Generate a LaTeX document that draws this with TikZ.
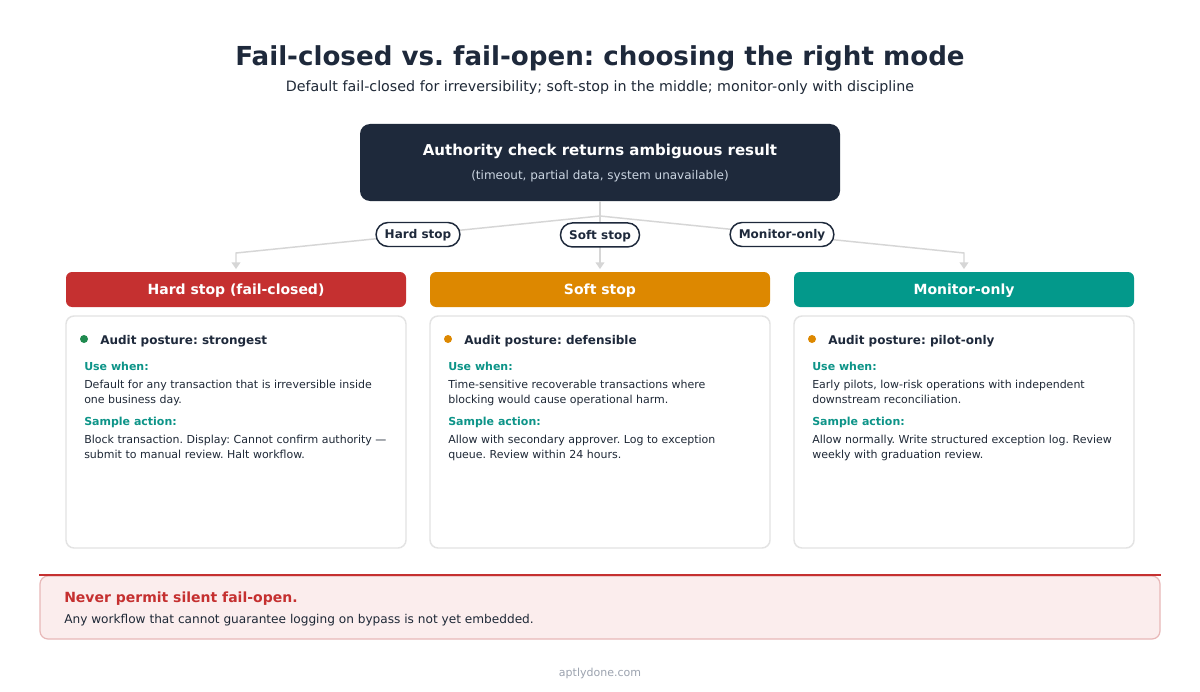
\documentclass[tikz,border=0pt]{standalone}
\usepackage{fontspec}
\setmainfont{DejaVu Sans}
\usetikzlibrary{arrows.meta}
\frenchspacing
\definecolor{navy}{HTML}{1E293B}
\definecolor{ink}{HTML}{1F2937}
\definecolor{hardred}{HTML}{C53030}
\definecolor{softorange}{HTML}{DD8800}
\definecolor{monteal}{HTML}{03998B}
\definecolor{cueteal}{HTML}{0D9488}
\definecolor{okgreen}{HTML}{1F8A4F}
\definecolor{linkgray}{HTML}{D6D6D6}
\definecolor{cardline}{HTML}{E3E3E3}
\definecolor{alertfill}{HTML}{FBEDED}
\definecolor{alertline}{HTML}{E8B8B8}
\definecolor{footgray}{HTML}{9CA3AF}
\definecolor{subgray}{HTML}{CBD5E1}

\begin{document}
\begin{tikzpicture}[x=0.75pt,y=-0.75pt,
    link/.style={draw=linkgray,line width=1.1pt},
    tip/.style={-{Triangle[length=5pt,width=6.5pt]},shorten >=2pt},
    pill/.style={draw=navy,fill=white,line width=1.1pt,rounded corners=9pt,minimum height=18pt,
      text height=6.6pt,text depth=0pt,inner xsep=6.5pt,inner ysep=0pt,text=navy,
      font=\fontsize{9}{11}\selectfont\bfseries},
    head/.style={rounded corners=4.5pt,minimum width=255pt,minimum height=26.25pt,
      text height=7.6pt,text depth=0pt,text=white,font=\fontsize{10.5}{12}\selectfont\bfseries},
    card/.style={draw=cardline,fill=white,line width=1.1pt,rounded corners=6pt,
      minimum width=255pt,minimum height=174pt},
    body/.style={anchor=base west,inner sep=0pt,text=ink,font=\fontsize{8.25}{10}\selectfont},
    cue/.style={anchor=base west,inner sep=0pt,text=cueteal,font=\fontsize{8.25}{10}\selectfont\bfseries}]
  \useasboundingbox[fill=white] (0,0) rectangle (1200,692);

  \node[anchor=base,text=navy,font=\fontsize{19.6}{22}\selectfont\bfseries] (title) at (600,66)
    {Fail-closed vs. fail-open: choosing the right mode};
  \node[anchor=base,text=ink,font=\fontsize{10.7}{13}\selectfont] (subtitle) at (600,92)
    {Default fail-closed for irreversibility; soft-stop in the middle; monitor-only with discipline};

  % ambiguous result
  \node[fill=navy,rounded corners=7.5pt,minimum width=360pt,minimum height=57.75pt] (auth) at (600,162.5) {};
  \node[anchor=base,text=white,font=\fontsize{11.25}{13}\selectfont\bfseries] (authtitle) at (600,156)
    {Authority check returns ambiguous result};
  \node[anchor=base,text=subgray,font=\fontsize{9}{11}\selectfont] (authsub) at (600,179)
    {(timeout, partial data, system unavailable)};

  % the three modes
  \foreach \x/\n/\hd/\hc/\dc/\aud/\ua/\ub/\sa/\sb in {
      66/hard/{Hard stop (fail-closed)}/hardred/okgreen/strongest/{Default for any transaction that is irreversible inside}/{one business day.}/{Block transaction. Display: Cannot confirm authority —}/{submit to manual review. Halt workflow.},
      430/soft/{Soft stop}/softorange/softorange/defensible/{Time-sensitive recoverable transactions where}/{blocking would cause operational harm.}/{Allow with secondary approver. Log to exception}/{queue. Review within 24 hours.},
      794/mon/{Monitor-only}/monteal/softorange/pilot-only/{Early pilots, low-risk operations with independent}/{downstream reconciliation.}/{Allow normally. Write structured exception log. Review}/{weekly with graduation review.}}{
    \node[head,fill=\hc] (\n) at (\x+170,289.5) {\hd};
    \node[card] (card\n) at (\x+170,432) {};
    \fill[\dc] (\x+18,339) circle (3pt);
    \node[anchor=base west,inner sep=0pt,text=navy,font=\fontsize{9}{11}\selectfont\bfseries] at (\x+34,344)
      {Audit posture: \aud};
    \node[cue] at (\x+18,370) {Use when:};
    \node[body] at (\x+18,388) {\ua};
    \node[body] at (\x+18,403) {\ub};
    \node[cue] at (\x+18,425) {Sample action:};
    \node[body] at (\x+18,443) {\sa};
    \node[body] at (\x+18,458) {\sb};
  }

  % connectors
  \coordinate (fork) at (600,216);
  \coordinate (hardbend) at (236,253);
  \coordinate (monbend) at (964,253);
  \draw[link] (auth.south) -- (fork);
  \draw[link,tip] (fork) -- node[pill]{Hard stop} (hardbend) -- (hard.north);
  \draw[link,tip] (fork) -- node[pill,pos=0.34]{Soft stop} (soft.north);
  \draw[link,tip] (fork) -- node[pill]{Monitor-only} (monbend) -- (mon.north);

  % warning
  \node[draw=alertline,fill=alertfill,line width=0.9pt,rounded corners=6pt,
    minimum width=840pt,minimum height=47.25pt] (alert) at (600,607.5) {};
  \draw[hardred,line width=1.5pt] (alert.north west) -- (alert.north east);
  \node[anchor=base west,inner sep=0pt,text=hardred,font=\fontsize{10.5}{12}\selectfont\bfseries] (alerttitle)
    at (64,602) {Never permit silent fail-open.};
  \node[anchor=base west,inner sep=0pt,text=ink,font=\fontsize{9.1}{11}\selectfont] (alertbody)
    at (64,623.5) {Any workflow that cannot guarantee logging on bypass is not yet embedded.};

  \node[anchor=base,text=footgray,font=\fontsize{8.25}{10}\selectfont] (foot) at (600,676) {aptlydone.com};
\end{tikzpicture}
\end{document}
